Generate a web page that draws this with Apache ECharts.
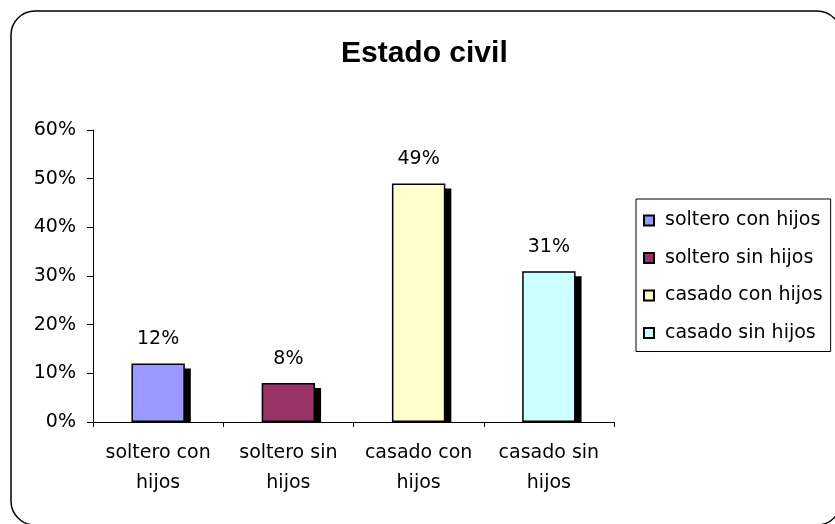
<!DOCTYPE html>
<html>
<head>
<meta charset="utf-8">
<script src="https://cdn.jsdelivr.net/npm/echarts@6/dist/echarts.min.js"></script>
<style>
html,body{margin:0;padding:0;background:#fff;}
#c{width:835px;height:524px;}
</style>
</head>
<body>
<div id="c"></div>
<script>
var categories = ['soltero con hijos', 'soltero sin hijos', 'casado con hijos', 'casado sin hijos'];
var values = [12, 8, 49, 31];
var colors = ['#9999FF', '#993366', '#FFFFCC', '#CCFFFF'];
var yTicks = [0, 10, 20, 30, 40, 50, 60];

var FONT = 'DejaVu Sans';
var chart = echarts.init(document.getElementById('c'), null, {renderer: 'canvas'});

var BAR_FRAC = 0.41;

var barSeries = categories.map(function (name, i) {
  return {
    name: name,
    type: 'bar',
    stack: 'all',
    barWidth: (BAR_FRAC * 100) + '%',
    z: 3,
    itemStyle: { color: colors[i], borderColor: '#000', borderWidth: 1.5 },
    label: {
      show: true, position: 'top', distance: 15,
      formatter: '{c}%', color: '#000', fontFamily: FONT, fontSize: 19
    },
    emphasis: { disabled: true },
    data: categories.map(function (c, j) { return j === i ? values[j] : '-'; })
  };
});

var shadowSeries = {
  name: 'shadow',
  type: 'custom',
  z: 1,
  silent: true,
  renderItem: function (params, api) {
    var idx = api.value(0);
    var val = api.value(1);
    var top = api.coord([idx, val]);
    var base = api.coord([idx, 0]);
    var w = api.size([1, 0])[0] * BAR_FRAC;
    return {
      type: 'rect',
      shape: { x: top[0] - w / 2 + 6, y: top[1] + 5, width: w, height: base[1] - top[1] - 5 },
      style: { fill: '#000' }
    };
  },
  data: values.map(function (v, i) { return [i, v]; })
};

chart.setOption({
  animation: false,
  backgroundColor: '#fff',
  graphic: [{
    type: 'rect',
    shape: { x: 11, y: 11, width: 830, height: 514, r: 24 },
    style: { fill: 'none', stroke: '#000', lineWidth: 1.5 },
    z: -10
  }],
  title: {
    text: 'Estado civil',
    left: 341, top: 39, padding: 0,
    textStyle: { fontFamily: 'Liberation Sans', fontWeight: 'bold', fontSize: 30, color: '#000' }
  },
  legend: {
    data: categories,
    orient: 'vertical',
    left: 636, top: 199,
    padding: [12, 8, 9, 7],
    itemGap: 18.5,
    itemWidth: 10, itemHeight: 10,
    icon: 'rect',
    borderColor: '#000', borderWidth: 1,
    selectedMode: false,
    textStyle: { fontFamily: FONT, fontSize: 19, color: '#000', padding: [0, 0, 0, 6] }
  },
  grid: { left: 93, right: 221, top: 130, bottom: 102, containLabel: false },
  xAxis: {
    type: 'category',
    data: categories,
    boundaryGap: true,
    axisLine: { lineStyle: { color: '#000', width: 1 } },
    axisTick: { show: true, length: 5, inside: false, lineStyle: { color: '#000' } },
    axisLabel: {
      margin: 16, color: '#000', fontFamily: FONT, fontSize: 19, lineHeight: 30, interval: 0,
      formatter: function (v) { var k = v.lastIndexOf(' '); return v.slice(0, k) + '\n' + v.slice(k + 1); }
    },
    splitLine: { show: false }
  },
  yAxis: {
    type: 'value',
    min: yTicks[0], max: yTicks[yTicks.length - 1], interval: 10,
    axisLine: { show: true, lineStyle: { color: '#000', width: 1 } },
    axisTick: { show: true, length: 6, inside: false, lineStyle: { color: '#000' } },
    axisLabel: { margin: 17, color: '#000', fontFamily: FONT, fontSize: 19, formatter: '{value}%' },
    splitLine: { show: false }
  },
  series: barSeries.concat([shadowSeries])
});
</script>
</body>
</html>
